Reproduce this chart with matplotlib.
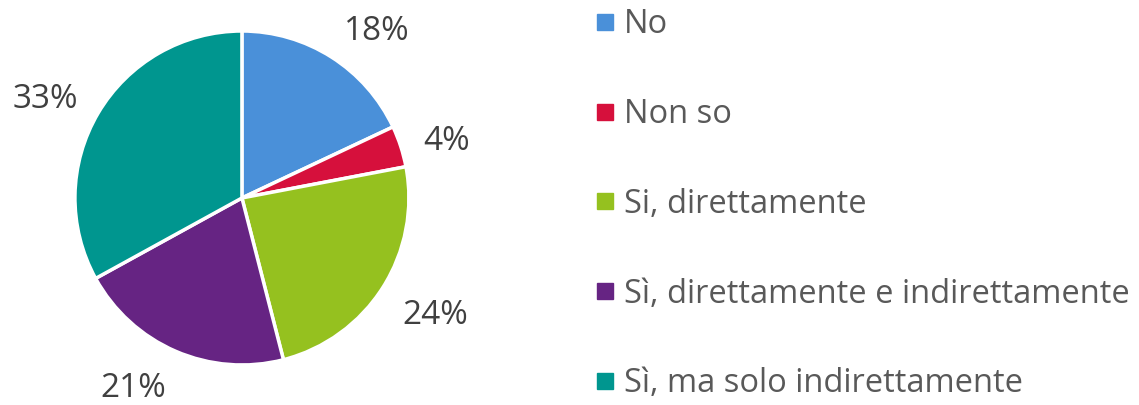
import numpy as np
import matplotlib.pyplot as plt
from matplotlib.lines import Line2D

plt.rcParams['font.family'] = ['Open Sans', 'DejaVu Sans']

labels = ['No', 'Non so', 'Si, direttamente', 'Sì, direttamente e indirettamente', 'Sì, ma solo indirettamente']
values = [18, 4, 24, 21, 33]
colors = ['#4A90D9', '#D6103C', '#95C11F', '#662483', '#00968F']
text_color = '#595959'

fig = plt.figure(figsize=(11.39, 4.05), dpi=100)
ax = fig.add_axes([0.0658, 0.0988, 0.2932, 0.8247])

wedges, texts = ax.pie(values, colors=colors, startangle=90, counterclock=False,
                       labels=[f'{v}%' for v in values], labeldistance=1.14,
                       wedgeprops=dict(edgecolor='white', linewidth=2.5),
                       textprops=dict(fontsize=24, color='#404040'))
# Excel-style: label box sits just outside the wedge edge
for w, t in zip(wedges, texts):
    ang = np.deg2rad((w.theta1 + w.theta2) / 2)
    c, s = np.cos(ang), np.sin(ang)
    x = 1.14 * c
    y = 1.14 * s + 0.075 * np.clip(1.3 * s, -0.7, 1) - 0.018
    t.set_position((x, y))
    t.set_ha('left' if c > 0 else 'right')
    t.set_va('center_baseline')
ax.set_xlim(-1, 1)
ax.set_ylim(-1, 1)
ax.set_aspect('equal')

handles = [Line2D([], [], marker='s', linestyle='', markersize=11.5,
                  markerfacecolor=c, markeredgecolor=c) for c in colors]
leg = fig.legend(handles, labels, loc='upper left', bbox_to_anchor=(0.5065, 1.02),
                 frameon=False, fontsize=23.5, labelspacing=1.74,
                 handlelength=0.7, handletextpad=0.24, borderpad=0)
for t in leg.get_texts():
    t.set_color(text_color)

fig.savefig('out.png', dpi=100)
